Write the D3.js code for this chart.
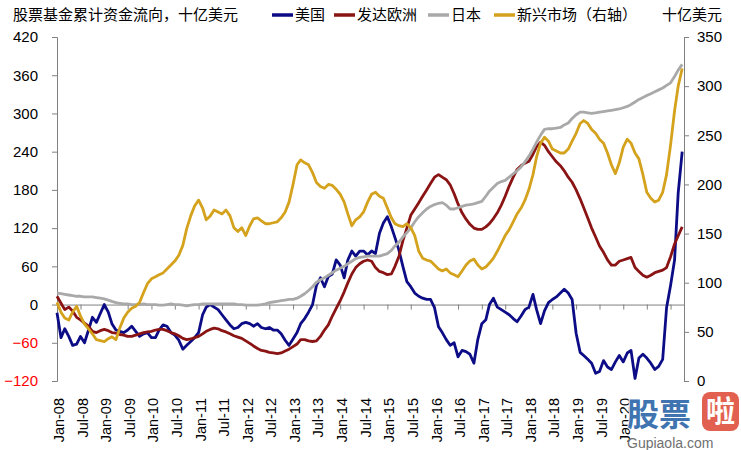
<!DOCTYPE html>
<html>
<head>
<meta charset="utf-8">
<script src="https://cdn.jsdelivr.net/npm/d3@7"></script>
<style>
  body { margin: 0; background: #fff; }
  text { font-family: "Liberation Sans", Arial, sans-serif; }
  .cjk { font-family: "Noto Sans CJK SC", sans-serif; }
</style>
</head>
<body>
<svg id="chart"></svg>
<script>
// Constants
const width = 741;
const height = 450;
const plot = { left: 57, right: 684, top: 37, bottom: 381 };

// Monthly categories, Jan 2008 .. Apr 2021
const months = d3.timeMonth.range(new Date(2008, 0, 1), new Date(2021, 4, 1));

// Half-year ticks along the zero line; labels shown up to Jan-20 (the rest sit under the logo)
const tickDates = d3.timeMonth.every(6).range(new Date(2008, 0, 1), new Date(2021, 1, 1));
const labelDates = d3.timeMonth.every(6).range(new Date(2008, 0, 1), new Date(2020, 1, 1));

// Cumulative equity fund flows, bn USD (left axis)
const usFlows = [
  -13, -52, -38, -50, -64, -62, -50, -60, -40, -20,
  -28, -14, 0, -12, -30, -40, -42, -44, -40, -34,
  -42, -50, -46, -44, -52, -52, -40, -32, -34, -44,
  -48, -56, -70, -64, -58, -52, -44, -16, -4, 0,
  -4, -8, -16, -24, -32, -38, -36, -30, -28, -30,
  -34, -30, -36, -38, -36, -40, -40, -46, -56, -64,
  -54, -44, -30, -22, -12, 0, 30, 42, 28, 44,
  48, 70, 62, 42, 70, 84, 76, 84, 84, 78,
  84, 80, 112, 128, 138, 122, 105, 85, 60, 36,
  28, 18, 13, 10, 8, 8, -5, -35, -44, -55,
  -64, -60, -82, -72, -74, -78, -92, -55, -30, -24,
  0, 10, -4, -8, -12, -16, -22, -27, -18, -8,
  -4, 16, -8, -30, -10, 3, 8, 12, 18, 24,
  18, 8, -45, -75, -80, -86, -92, -108, -105, -88,
  -98, -102, -90, -80, -90, -76, -72, -116, -84, -78,
  -84, -92, -102, -97, -86, -5, 30, 70, 175, 240
];

const europeFlows = [
  13, 2, -8, -4, -10, -20, -24, -29, -34, -42,
  -44, -41, -39, -41, -44, -45, -47, -48, -50, -50,
  -48, -46, -44, -43, -42, -40, -39, -39, -41, -44,
  -46, -49, -53, -55, -54, -52, -50, -46, -42, -39,
  -37, -38, -41, -43, -46, -49, -51, -53, -57, -61,
  -65, -69, -72, -73, -75, -76, -77, -76, -73, -70,
  -66, -62, -55, -55, -57, -58, -57, -50, -40, -32,
  -18, -6, 6, 20, 34, 48, 58, 64, 68, 70,
  68, 58, 52, 50, 47, 48, 60, 76, 100, 120,
  140, 150, 160, 170, 180, 190, 200, 204, 200, 196,
  188, 174, 158, 144, 134, 126, 120, 118, 118, 122,
  127, 135, 144, 156, 170, 186, 200, 212, 218, 222,
  225, 236, 248, 255, 250, 240, 232, 224, 218, 210,
  200, 192, 180, 166, 152, 136, 120, 106, 92, 82,
  70, 62, 62, 68, 70, 72, 74, 58, 52, 46,
  43, 46, 50, 52, 54, 58, 75, 95, 108, 122
];

const japanFlows = [
  18, 17, 16, 15, 14, 13, 13, 12, 12, 12,
  11, 10, 9, 7, 5, 3, 2, 1, 1, 0,
  0, 0, 1, 0, 0, 0, -1, -1, 0, 1,
  0, 0, -1, -2, -1, 0, 0, 1, 1, 1,
  1, 1, 1, 1, 1, 1, 0, 0, -1, -1,
  -1, -1, 0, 1, 3, 4, 5, 6, 7, 8,
  8, 10, 13, 17, 22, 28, 35, 39, 42, 46,
  50, 54, 57, 60, 64, 68, 72, 74, 75, 76,
  76, 76, 76, 78, 80, 85, 92, 98, 106, 113,
  120, 130, 138, 144, 150, 154, 157, 159, 160, 156,
  150, 150, 152, 154, 156, 157, 158, 160, 162, 170,
  178, 184, 190, 193, 195, 200, 205, 210, 216, 224,
  233, 244, 255, 266, 275, 276, 276, 277, 278, 282,
  285, 292, 298, 302, 302, 301, 300, 301, 302, 303,
  304, 305, 306, 307, 309, 311, 314, 318, 322, 325,
  328, 331, 334, 337, 340, 344, 348, 358, 368, 377
];

// Emerging markets (right axis)
const emFlows = [
  80, 70, 64, 62, 70, 76, 66, 58, 53, 48,
  42, 41, 40, 43, 45, 42, 54, 64, 70, 74,
  76, 80, 90, 99, 104, 106, 108, 110, 114, 118,
  122, 128, 138, 155, 168, 178, 184, 176, 164, 168,
  174, 172, 170, 174, 168, 156, 152, 156, 148, 158,
  165, 166, 163, 160, 160, 161, 162, 166, 172, 182,
  200, 220, 225, 222, 220, 212, 202, 198, 196, 200,
  199, 195, 190, 182, 170, 158, 164, 167, 172, 182,
  190, 192, 188, 186, 176, 166, 160, 158, 157, 160,
  156, 148, 132, 125, 123, 122, 118, 114, 112, 114,
  110, 108, 106, 112, 118, 122, 124, 118, 114, 116,
  120, 125, 132, 140, 148, 154, 162, 170, 176, 184,
  195, 210, 228, 242, 248, 244, 236, 234, 232, 232,
  236, 244, 252, 262, 265, 262, 256, 252, 246, 242,
  232, 220, 211, 222, 238, 246, 242, 232, 226, 210,
  192, 186, 182, 184, 192, 210, 240, 275, 300, 318
];

const series = [
  { name: "美国", values: usFlows, axis: "left", color: "#0c0c86" },
  { name: "发达欧洲", values: europeFlows, axis: "left", color: "#8a1414" },
  { name: "日本", values: japanFlows, axis: "left", color: "#a9a9a9" },
  { name: "新兴市场（右轴）", values: emFlows, axis: "right", color: "#d4a21c" }
];

const svg = d3.select("#chart").attr("width", width).attr("height", height);

// Scales
const xScale = d3.scaleTime()
  .domain([new Date(2008, 0, 1), new Date(2021, 3, 15)])
  .range([plot.left, plot.right]);

const yLeft = d3.scaleLinear().domain([-120, 420]).range([plot.bottom, plot.top]);
const yRight = d3.scaleLinear().domain([0, 350]).range([plot.bottom, plot.top]);

const axisColor = "#808080";

// Left axis
const gLeft = svg.append("g")
  .attr("transform", `translate(${plot.left},0)`)
  .call(d3.axisLeft(yLeft).tickValues(d3.range(-120, 421, 60)).tickSize(5).tickPadding(14));
gLeft.selectAll("text")
  .attr("font-size", 15)
  .attr("font-family", "Liberation Sans, Arial, sans-serif")
  .attr("fill", d => d < 0 ? "#ff0000" : "#000");

// Right axis
const gRight = svg.append("g")
  .attr("transform", `translate(${plot.right},0)`)
  .call(d3.axisRight(yRight).tickValues(d3.range(0, 351, 50)).tickSize(5).tickPadding(8));
gRight.selectAll("text")
  .attr("font-size", 15)
  .attr("font-family", "Liberation Sans, Arial, sans-serif")
  .attr("fill", "#000");

[gLeft, gRight].forEach(g => {
  g.select(".domain").attr("stroke", axisColor);
  g.selectAll(".tick line").attr("stroke", axisColor);
});

// Horizontal axis along zero with half-year ticks
const gX = svg.append("g")
  .attr("transform", `translate(0,${yLeft(0)})`)
  .call(d3.axisBottom(xScale).tickValues(tickDates).tickSize(5).tickSizeOuter(0).tickFormat(""));
gX.select(".domain").attr("stroke", axisColor);
gX.selectAll(".tick line").attr("stroke", axisColor);

// Rotated date labels at the bottom
const fmt = d3.timeFormat("%b-%y");
svg.append("g")
  .selectAll("text")
  .data(labelDates)
  .join("text")
  .attr("transform", d => `translate(${xScale(d) + 7},398) rotate(-90)`)
  .attr("text-anchor", "end")
  .attr("font-size", 14.5)
  .attr("fill", "#000")
  .text(d => fmt(d));

// Lines
series.forEach(s => {
  const y = s.axis === "left" ? yLeft : yRight;
  const line = d3.line()
    .x((v, i) => xScale(months[i]))
    .y(v => y(v));
  svg.append("path")
    .datum(s.values)
    .attr("fill", "none")
    .attr("stroke", s.color)
    .attr("stroke-width", 2.8)
    .attr("stroke-linejoin", "round")
    .attr("d", line);
});

// Title and legend row
svg.append("text").attr("class", "cjk")
  .attr("x", 13).attr("y", 20)
  .attr("font-size", 15).attr("fill", "#000")
  .text("股票基金累计资金流向，十亿美元");

const legendX = [272, 334, 428, 494];
series.forEach((s, i) => {
  const g = svg.append("g").attr("transform", `translate(${legendX[i]},15)`);
  g.append("line").attr("x1", 0).attr("x2", 21).attr("y1", 0).attr("y2", 0)
    .attr("stroke", s.color).attr("stroke-width", 3.5);
  g.append("text").attr("class", "cjk")
    .attr("x", 23).attr("y", 5)
    .attr("font-size", 15).attr("fill", "#000")
    .text(s.name);
});

svg.append("text").attr("class", "cjk")
  .attr("x", 662).attr("y", 20)
  .attr("font-size", 15).attr("fill", "#000")
  .text("十亿美元");

// Site logo in the bottom-right corner
const wm = svg.append("g");
wm.append("text").attr("class", "cjk")
  .attr("x", 627).attr("y", 426)
  .attr("font-size", 32).attr("font-weight", "bold")
  .attr("fill", "#3f74b0").attr("stroke", "#fff").attr("stroke-width", 1.5)
  .attr("paint-order", "stroke")
  .text("股票");
wm.append("rect")
  .attr("x", 702).attr("y", 392).attr("width", 37).attr("height", 39).attr("rx", 8)
  .attr("fill", "#e2604f");
wm.append("text").attr("class", "cjk")
  .attr("x", 720.5).attr("y", 422).attr("text-anchor", "middle")
  .attr("font-size", 29).attr("font-weight", "bold").attr("fill", "#fff")
  .text("啦");
wm.append("text")
  .attr("x", 627).attr("y", 448)
  .attr("font-family", "Liberation Serif, serif")
  .attr("font-size", 14).attr("fill", "#707070")
  .text("Gupiaola.com");
</script>
</body>
</html>
